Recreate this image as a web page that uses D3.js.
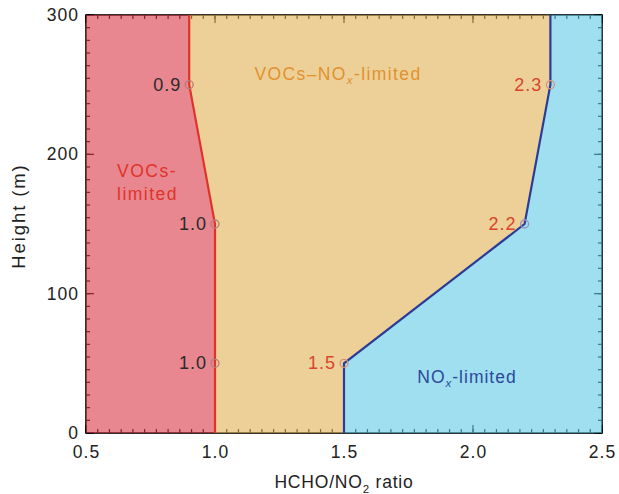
<!DOCTYPE html>
<html>
<head>
<meta charset="utf-8">
<script src="https://cdn.jsdelivr.net/npm/d3@7"></script>
<style>
  body { margin: 0; background: #fff; }
  text { font-family: "Liberation Sans", Arial, sans-serif; }
</style>
</head>
<body>
<svg id="chart"></svg>
<script>
// boundary data: HCHO/NO2 ratio at each height
const heights = [300, 250, 150, 50, 0];
const vocBoundary = [0.9, 0.9, 1.0, 1.0, 1.0];
const noxBoundary = [2.3, 2.3, 2.2, 1.5, 1.5];
const markerHeights = [250, 150, 50];
const vocLabels = ["0.9", "1.0", "1.0"];
const noxLabels = ["2.3", "2.2", "1.5"];
const xTicks = [0.5, 1.0, 1.5, 2.0, 2.5];
const yTicks = [0, 100, 200, 300];

const W = 619, H = 494;
const margin = { top: 15, right: 17, bottom: 61, left: 86 };
const width = W - margin.left - margin.right;
const height = H - margin.top - margin.bottom;

const svg = d3.select("#chart").attr("width", W).attr("height", H);
const g = svg.append("g").attr("transform", `translate(${margin.left},${margin.top})`);

const x = d3.scaleLinear().domain([0.5, 2.5]).range([0, width]);
const y = d3.scaleLinear().domain([0, 300]).range([height, 0]);

// minor ticks (11 intervals per major)
const xMinor = d3.range(0, 4 * 11 + 1).map(i => 0.5 + i * 0.5 / 11);
const yMinor = d3.range(0, 3 * 11 + 1).map(i => i * 100 / 11);

// frame + ticks, drawn under the translucent fills
const axes = g.append("g").attr("stroke", "#000");
axes.append("rect").attr("width", width).attr("height", height)
  .attr("fill", "none").attr("stroke-width", 1.6);

function tickLines(vals, len, horiz) {
  vals.forEach(v => {
    if (horiz) {
      const px = x(v);
      axes.append("line").attr("x1", px).attr("x2", px).attr("y1", height).attr("y2", height - len).attr("stroke-width", 1.2);
      axes.append("line").attr("x1", px).attr("x2", px).attr("y1", 0).attr("y2", len).attr("stroke-width", 1.2);
    } else {
      const py = y(v);
      axes.append("line").attr("x1", 0).attr("x2", len).attr("y1", py).attr("y2", py).attr("stroke-width", 1.2);
      axes.append("line").attr("x1", width).attr("x2", width - len).attr("y1", py).attr("y2", py).attr("stroke-width", 1.2);
    }
  });
}
tickLines(xMinor, 4, true);
tickLines(xTicks, 8, true);
tickLines(yMinor, 4, false);
tickLines(yTicks, 8, false);

// regions
const vocPts = heights.map((h, i) => [vocBoundary[i], h]);
const noxPts = heights.map((h, i) => [noxBoundary[i], h]);
const poly = pts => "M" + pts.map(p => `${x(p[0])},${y(p[1])}`).join("L") + "Z";

const redRegion = [[0.5, 300], ...vocPts, [0.5, 0]];
const midRegion = [...vocPts, ...noxPts.slice().reverse()];
const blueRegion = [...noxPts, [2.5, 0], [2.5, 300]];

g.append("path").attr("d", poly(redRegion)).attr("fill", "#d93744").attr("fill-opacity", 0.6);
g.append("path").attr("d", poly(midRegion)).attr("fill", "#e1b152").attr("fill-opacity", 0.6);
g.append("path").attr("d", poly(blueRegion)).attr("fill", "#61cae6").attr("fill-opacity", 0.6);

const line = d3.line().x(d => x(d[0])).y(d => y(d[1]));
g.append("path").attr("d", line(vocPts)).attr("fill", "none").attr("stroke", "#e0322a").attr("stroke-width", 2.2);
g.append("path").attr("d", line(noxPts)).attr("fill", "none").attr("stroke", "#2b3c98").attr("stroke-width", 2.2);

// markers and value labels
markerHeights.forEach((h, i) => {
  const vi = heights.indexOf(h);
  g.append("circle").attr("cx", x(vocBoundary[vi])).attr("cy", y(h)).attr("r", 4)
    .attr("fill", "none").attr("stroke", "#b97a78").attr("stroke-width", 1.3);
  g.append("circle").attr("cx", x(noxBoundary[vi])).attr("cy", y(h)).attr("r", 4)
    .attr("fill", "none").attr("stroke", i === 0 || i === 2 ? "#d59080" : "#9b8fbd").attr("stroke-width", 1.3);
  g.append("text").attr("x", x(vocBoundary[vi]) - 8).attr("y", y(h) + 6)
    .attr("text-anchor", "end").attr("font-size", 18).attr("letter-spacing", 1)
    .attr("fill", "#2a2a2a").text(vocLabels[i]);
  g.append("text").attr("x", x(noxBoundary[vi]) - 8).attr("y", y(h) + 6)
    .attr("text-anchor", "end").attr("font-size", 18).attr("letter-spacing", 1)
    .attr("fill", "#d8452c").text(noxLabels[i]);
});

// region labels
const vl = g.append("text").attr("font-size", 17.5).attr("letter-spacing", 1.5).attr("fill", "#e0322a");
vl.append("tspan").attr("x", 31).attr("y", 162).text("VOCs-");
vl.append("tspan").attr("x", 31).attr("y", 185).text("limited");

const ml = g.append("text").attr("x", 252).attr("y", 65).attr("text-anchor", "middle")
  .attr("font-size", 17.5).attr("letter-spacing", 1.4).attr("fill", "#e0922f");
ml.append("tspan").text("VOCs\u2013NO");
ml.append("tspan").attr("font-size", 11.5).attr("font-style", "italic").attr("dy", 4).text("x");
ml.append("tspan").attr("dy", -4).text("-limited");

const nl = g.append("text").attr("x", 381).attr("y", 368).attr("text-anchor", "middle")
  .attr("font-size", 17.5).attr("letter-spacing", 1).attr("fill", "#2b4a9c");
nl.append("tspan").text("NO");
nl.append("tspan").attr("font-size", 11.5).attr("font-style", "italic").attr("dy", 4).text("x");
nl.append("tspan").attr("dy", -4).text("-limited");

// tick labels
g.selectAll("text.xt").data(xTicks).enter().append("text").attr("class", "xt")
  .attr("x", d => x(d) + 0.5).attr("y", height + 25).attr("text-anchor", "middle")
  .attr("font-size", 17.5).attr("letter-spacing", 1).attr("fill", "#222").text(d3.format(".1f"));
g.selectAll("text.yt").data(yTicks).enter().append("text").attr("class", "yt")
  .attr("x", -7).attr("y", d => y(d) + 6).attr("text-anchor", "end")
  .attr("font-size", 17.5).attr("letter-spacing", 1).attr("fill", "#222").text(d => d);

// axis titles
const xt = g.append("text").attr("x", width / 2).attr("y", height + 55).attr("text-anchor", "middle")
  .attr("font-size", 17.5).attr("letter-spacing", 0.8).attr("fill", "#222");
xt.append("tspan").text("HCHO/NO");
xt.append("tspan").attr("font-size", 11.5).attr("dy", 5).text("2");
xt.append("tspan").attr("dy", -5).text(" ratio");

g.append("text").attr("transform", `translate(-61,${height / 2 - 8}) rotate(-90)`)
  .attr("text-anchor", "middle").attr("font-size", 18.5).attr("letter-spacing", 1.9)
  .attr("fill", "#222").text("Height (m)");
</script>
</body>
</html>
